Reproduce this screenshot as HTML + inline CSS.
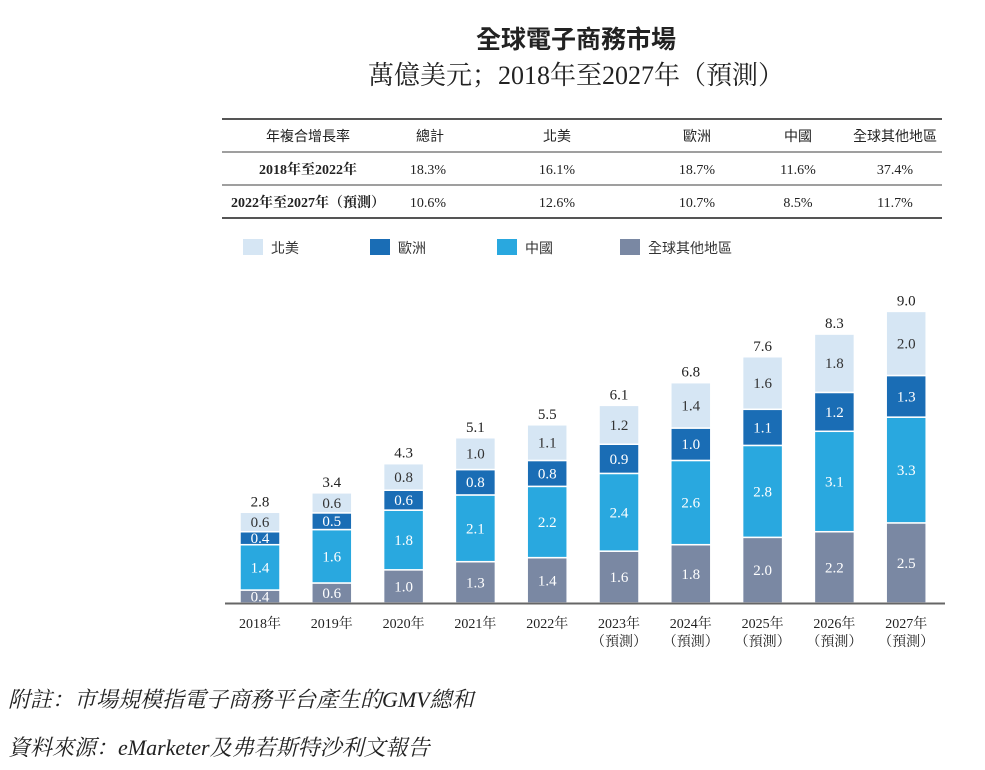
<!DOCTYPE html>
<html><head><meta charset="utf-8"><style>
body{margin:0;background:#fff;width:985px;height:770px;overflow:hidden}
svg{display:block}
.s{font-family:"Liberation Serif","Noto Serif CJK SC",serif}
.k{font-family:"Liberation Sans","Noto Sans CJK TC",sans-serif}
</style></head><body>
<svg width="985" height="770" xmlns="http://www.w3.org/2000/svg">
<text x="576" y="48" text-anchor="middle" class="k" font-size="25" font-weight="bold" fill="#222">全球電子商務市場</text>
<text x="576" y="84" text-anchor="middle" class="s" font-size="26" fill="#222">萬億美元；2018年至2027年（預測）</text>
<g stroke="#555" stroke-width="2"><line x1="222" y1="119" x2="942" y2="119"/><line x1="222" y1="218" x2="942" y2="218"/></g>
<g stroke="#666" stroke-width="1.3"><line x1="222" y1="152" x2="942" y2="152"/><line x1="222" y1="185" x2="942" y2="185"/></g>
<g class="k" font-size="14" fill="#222" text-anchor="middle">
<text x="308" y="141">年複合增長率</text><text x="430" y="141">總計</text><text x="557" y="141">北美</text><text x="697" y="141">歐洲</text><text x="798" y="141">中國</text><text x="895" y="141">全球其他地區</text>
</g>
<g class="s" font-size="14" fill="#222" text-anchor="middle">
<text x="308" y="174" font-weight="bold">2018年至2022年</text><text x="428" y="174">18.3%</text><text x="557" y="174">16.1%</text><text x="697" y="174">18.7%</text><text x="798" y="174">11.6%</text><text x="895" y="174">37.4%</text>
<text x="308" y="207" font-weight="bold">2022年至2027年（預測）</text><text x="428" y="207">10.6%</text><text x="557" y="207">12.6%</text><text x="697" y="207">10.7%</text><text x="798" y="207">8.5%</text><text x="895" y="207">11.7%</text>
</g>
<g class="k" font-size="14" fill="#333">
<rect x="243" y="239" width="20" height="16" fill="#d6e6f4"/><text x="271" y="253">北美</text>
<rect x="370" y="239" width="20" height="16" fill="#1a6db5"/><text x="398" y="253">歐洲</text>
<rect x="497" y="239" width="20" height="16" fill="#29a8df"/><text x="525" y="253">中國</text>
<rect x="620" y="239" width="20" height="16" fill="#7a88a3"/><text x="648" y="253">全球其他地區</text>
</g>
<g id="bars"></g>
<line x1="225" y1="603.5" x2="945" y2="603.5" stroke="#666" stroke-width="2"/>
<text x="8" y="707" class="s" font-size="22" font-style="italic" fill="#222">附註：市場規模指電子商務平台產生的GMV總和</text>
<text x="8" y="755" class="s" font-size="22" font-style="italic" fill="#222">資料來源：eMarketer及弗若斯特沙利文報告</text>
</svg>
<script>
var d=[[2.8,0.4,1.4,0.4,0.6],[3.4,0.6,1.6,0.5,0.6],[4.3,1.0,1.8,0.6,0.8],[5.1,1.3,2.1,0.8,1.0],[5.5,1.4,2.2,0.8,1.1],[6.1,1.6,2.4,0.9,1.2],[6.8,1.8,2.6,1.0,1.4],[7.6,2.0,2.8,1.1,1.6],[8.3,2.2,3.1,1.2,1.8],[9.0,2.5,3.3,1.3,2.0]];
var cols=["#7a88a3","#29a8df","#1a6db5","#d6e6f4"],tc=["#fff","#fff","#fff","#333"];
var s="",k=32.4,base=603;
for(var i=0;i<10;i++){var cx=260+i*71.8,x=cx-20,y=base,tot=d[i][0];
 var sum=d[i][1]+d[i][2]+d[i][3]+d[i][4],sc=tot*k/sum;
 for(var j=0;j<4;j++){var h=d[i][j+1]*sc;y-=h;
  s+='<rect x="'+x+'" y="'+y+'" width="40" height="'+h+'" fill="'+cols[j]+'" stroke="#fff" stroke-width="1.5"/>';
  s+='<text x="'+cx+'" y="'+(y+h/2+5)+'" text-anchor="middle" class="s" font-size="15" fill="'+tc[j]+'">'+d[i][j+1].toFixed(1)+'</text>';}
 s+='<text x="'+cx+'" y="'+(y-6)+'" text-anchor="middle" class="s" font-size="15" fill="#222">'+tot.toFixed(1)+'</text>';
 s+='<text x="'+cx+'" y="628" text-anchor="middle" class="s" font-size="14" fill="#222">'+(2018+i)+'年</text>';
 if(i>=5)s+='<text x="'+cx+'" y="646" text-anchor="middle" class="s" font-size="14" fill="#222">（預測）</text>';
}
document.getElementById("bars").innerHTML=s;
</script>
</body></html>
